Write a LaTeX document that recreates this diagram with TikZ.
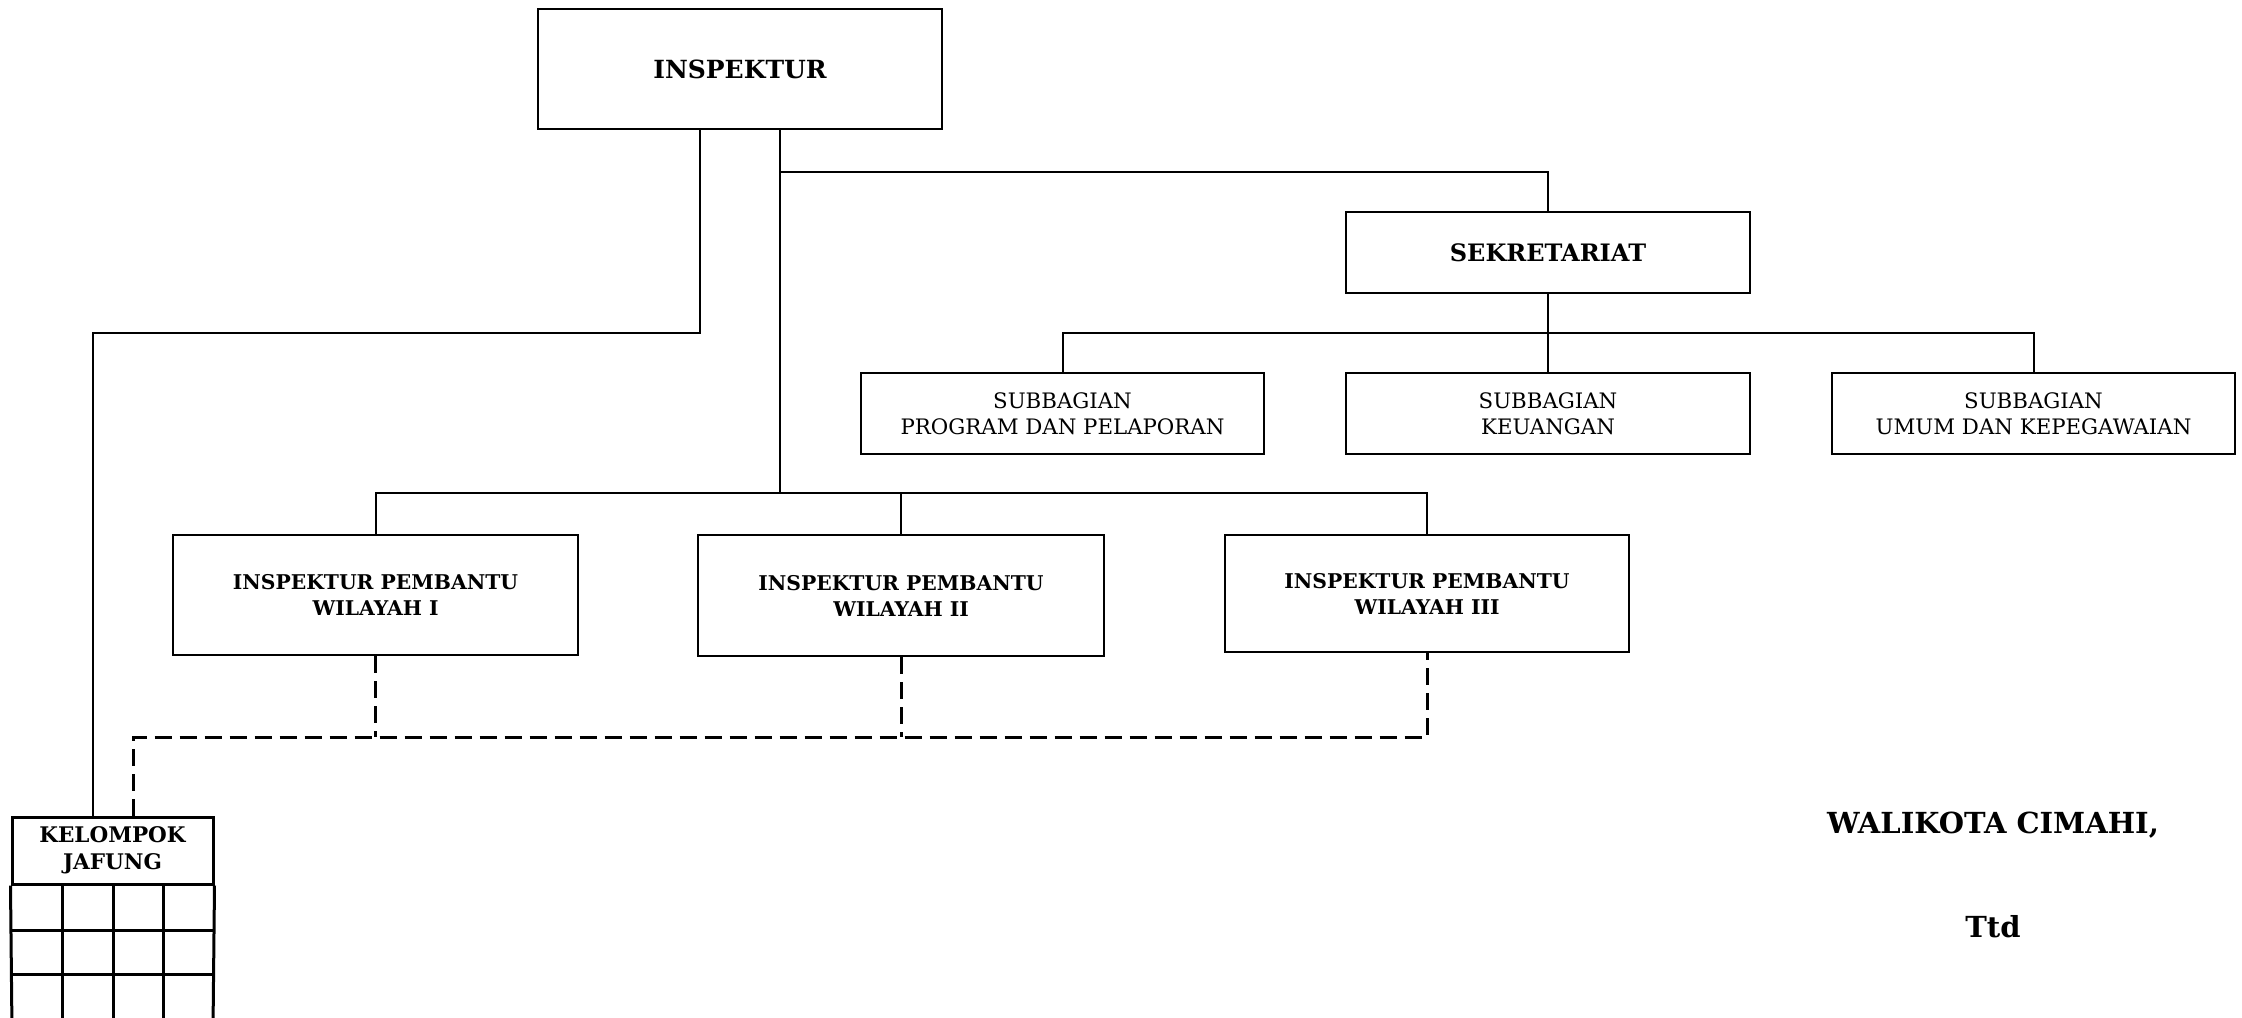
\documentclass[tikz,border=0pt]{standalone}
\usepackage{fontspec}
\setmainfont{DejaVu Serif}
\begin{document}
\begin{tikzpicture}[x=1pt,y=-1pt,
  box/.style={draw, line width=2pt, rectangle, align=center, inner sep=0pt},
  link/.style={line width=2pt},
  dlink/.style={line width=3pt, dash pattern=on 17pt off 8pt},
  fbig/.style={font=\fontsize{25}{30}\selectfont\bfseries},
  fmid/.style={font=\fontsize{24}{28}\selectfont\bfseries},
  fip/.style={font=\fontsize{20.3}{26}\selectfont\bfseries},
  fkel/.style={font=\fontsize{21.5}{27}\selectfont\bfseries},
  fsub/.style={font=\fontsize{21.3}{26}\selectfont},
  fsig/.style={font=\fontsize{29}{32}\selectfont\bfseries}]
\useasboundingbox (0,0) rectangle (2242,1017);
\fill[white] (0,0) rectangle (2242,1017);

\node[box, fbig, minimum width=404pt, minimum height=120pt] (insp) at (740,69) {INSPEKTUR};
\node[box, fmid, minimum width=404pt, minimum height=81pt] (sek) at (1548,252.5) {SEKRETARIAT};
\node[box, fsub, minimum width=403pt, minimum height=81pt] (sub1) at (1062.5,413.5) {SUBBAGIAN\\PROGRAM DAN PELAPORAN};
\node[box, fsub, minimum width=404pt, minimum height=81pt] (sub2) at (1548,413.5) {SUBBAGIAN\\KEUANGAN};
\node[box, fsub, minimum width=403pt, minimum height=81pt] (sub3) at (2033.5,413.5) {SUBBAGIAN\\UMUM DAN KEPEGAWAIAN};
\node[box, fip, minimum width=405pt, minimum height=120pt] (ip1) at (375.5,595) {INSPEKTUR PEMBANTU\\WILAYAH I};
\node[box, fip, minimum width=406pt, minimum height=121pt] (ip2) at (901,595.5) {INSPEKTUR PEMBANTU\\WILAYAH II};
\node[box, fip, minimum width=404pt, minimum height=117pt] (ip3) at (1427,593.5) {INSPEKTUR PEMBANTU\\WILAYAH III};
\node[box, fkel, line width=3pt, minimum width=201pt, minimum height=67pt] (kel) at (112.5,850.5) {KELOMPOK\\JAFUNG};

% grid below KELOMPOK JAFUNG
\draw[line width=3pt] (kel.south west) -- (12,1030);
\draw[line width=3pt] (kel.south east) -- (213,1030);
\foreach \cx in {62,113,163} \draw[line width=3pt] (\cx,884) -- (\cx,1030);
\foreach \ry in {930,974} \draw[line width=3pt] (12,\ry) -- (213,\ry);

\node[fsig] (wali) at (1993,825) {WALIKOTA CIMAHI,};
\node[fsig] (ttd) at (1993,927) {Ttd};

% connectors
\coordinate (j1) at (700,333);
\coordinate (j2) at (93,333);
\draw[link] (insp.south -| j1) -- (j1) -- (j2) -- (kel.north -| j2);
\coordinate (trunk) at (780,493);
\draw[link] (insp.south -| trunk) -- (trunk);
\coordinate (sekj) at (780,172);
\draw[link] (sekj) -- (sekj -| sek.north) -- (sek.north);
\draw[link] (ip1.north) -- (ip1.north |- trunk) -- (ip3.north |- trunk) -- (ip3.north);
\draw[link] (ip2.north) -- (ip2.north |- trunk);
\coordinate (sj) at (1548,333);
\draw[link] (sek.south) -- (sj);
\draw[link] (sub1.north) -- (sub1.north |- sj) -- (sub3.north |- sj) -- (sub3.north);
\draw[link] (sub2.north) -- (sub2.north |- sj);

\coordinate (dj) at (133,737);
\draw[dlink] (kel.north -| dj) -- (dj) -- (ip3.south |- dj) -- (ip3.south);
\draw[dlink] (ip1.south) -- (ip1.south |- dj);
\draw[dlink] (ip2.south) -- (ip2.south |- dj);
\end{tikzpicture}
\end{document}
